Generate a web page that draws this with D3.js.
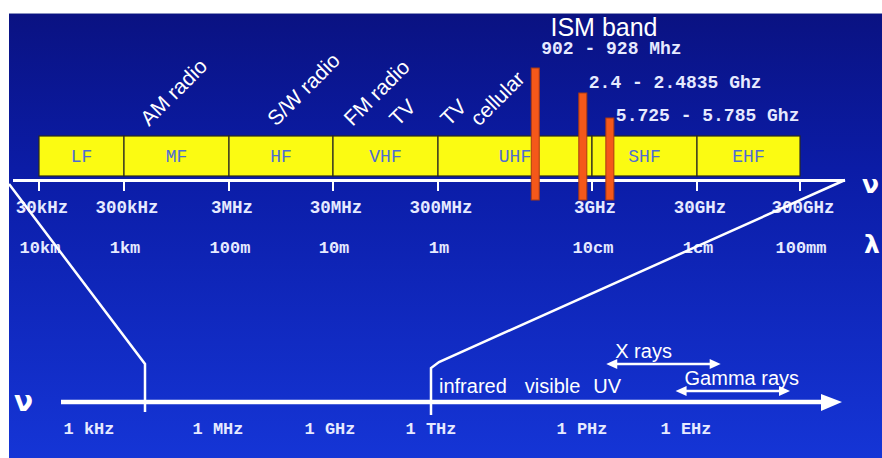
<!DOCTYPE html>
<html>
<head>
<meta charset="utf-8">
<script src="https://cdn.jsdelivr.net/npm/d3@7"></script>
<style>
  html, body { margin: 0; padding: 0; background: #ffffff; }
  svg { display: block; }
</style>
</head>
<body>
<script>
// ---------------- DATA ----------------
const bandNames = ["LF", "MF", "HF", "VHF", "UHF", "SHF", "EHF"];
const bandEdges = [3e4, 3e5, 3e6, 3e7, 3e8, 3e9, 3e10, 3e11];
const freqTickLabels = ["30kHz", "300kHz", "3MHz", "30MHz", "300MHz", "3GHz", "30GHz", "300GHz"];
const wavelengthLabels = ["10km", "1km", "100m", "10m", "1m", "10cm", "1cm", "100mm"];

const serviceNames = ["AM radio", "S/W radio", "FM radio", "TV", "TV", "cellular"];
const serviceFreqs = [5.2e5, 8.5e6, 4.6e7, 1.25e8, 3.4e8, 4.8e8];   // label anchor frequencies

const ismTitle = "ISM band";
const ismLabels = ["902 - 928 Mhz", "2.4 - 2.4835 Ghz", "5.725 - 5.785 Ghz"];
const ismLow = [902e6, 2.4e9, 5.725e9];
const ismHigh = [928e6, 2.4835e9, 5.785e9];

const spectrumTickLabels = ["1 kHz", "1 MHz", "1 GHz", "1 THz", "1 PHz", "1 EHz"];
const spectrumTickFreqs = [1e3, 1e6, 1e9, 1e12, 1e15, 1e18];
const zoomSpan = [3e4, 1e12];

const regionNames = ["infrared", "visible", "UV"];
const regionFreqs = [6.8e12, 2.6e14, 5.3e15];

const rayNames = ["X rays", "Gamma rays"];
const rayLow = [5e15, 5e17];
const rayHigh = [1e19, 1e21];

// ---------------- LAYOUT ----------------
const W = 882, H = 458;
const svg = d3.select("body").append("svg").attr("width", W).attr("height", H);

const defs = svg.append("defs");
const grad = defs.append("linearGradient").attr("id", "bg").attr("x1", 0).attr("y1", 0).attr("x2", 0).attr("y2", 1);
grad.append("stop").attr("offset", "0%").attr("stop-color", "#0a1282");
grad.append("stop").attr("offset", "35%").attr("stop-color", "#0b1ca6");
grad.append("stop").attr("offset", "100%").attr("stop-color", "#1535d6");

svg.append("rect").attr("width", W).attr("height", H).attr("fill", "#ffffff");
svg.append("rect").attr("x", 9).attr("y", 13).attr("width", W - 9).attr("height", H - 13).attr("fill", "url(#bg)");
svg.append("line").attr("x1", 9).attr("x2", W).attr("y1", 13.5).attr("y2", 13.5).attr("stroke", "#8890c0").attr("stroke-width", 1);

// top (radio) frequency scale: piecewise log scale as drawn in the diagram
const xTop = d3.scaleLog()
  .domain([3e4, 3e5, 3e6, 3e7, 3e8, 1e9, 3e9, 1e10, 3e10, 3e11])
  .range([39, 124, 229, 333, 438, 543, 592, 625, 697, 800]);

// bottom (full spectrum) scale
const xBot = d3.scaleLog()
  .domain([1e3, 3e4, 1e6, 1e9, 1e12, 1e15, 1e18])
  .range([89, 145, 218, 330, 431, 582, 686]);

const sans = "'Liberation Sans', Arial, sans-serif";
const mono = "'Liberation Mono', 'Courier New', monospace";
const lightText = "#e6eaff";

// ---------- band bar ----------
const bandTop = 136, bandBot = 176;
const bands = bandNames.map((n, i) => ({ name: n, lo: bandEdges[i], hi: bandEdges[i + 1] }));
svg.append("g").selectAll("rect").data(bands).join("rect")
  .attr("x", d => xTop(d.lo)).attr("y", bandTop)
  .attr("width", d => xTop(d.hi) - xTop(d.lo)).attr("height", bandBot - bandTop)
  .attr("fill", "#fbfb12").attr("stroke", "#2a2a20").attr("stroke-width", 1.2);
svg.append("g").selectAll("text").data(bands).join("text")
  .attr("x", d => (xTop(d.lo) + xTop(d.hi)) / 2).attr("y", 162)
  .attr("text-anchor", "middle").attr("font-family", mono).attr("font-size", 18)
  .attr("fill", "#4f6cd2").text(d => d.name);

// ---------- top axis ----------
svg.append("line").attr("x1", 13).attr("x2", 845).attr("y1", 180.5).attr("y2", 180.5)
  .attr("stroke", "#ffffff").attr("stroke-width", 3);
svg.append("g").selectAll("line").data(bandEdges).join("line")
  .attr("x1", d => xTop(d)).attr("x2", d => xTop(d)).attr("y1", 180).attr("y2", 191)
  .attr("stroke", "#ffffff").attr("stroke-width", 2);
svg.append("g").selectAll("text").data(bandEdges).join("text")
  .attr("x", d => xTop(d) + 3).attr("y", 213)
  .attr("text-anchor", "middle").attr("font-family", mono).attr("font-size", 17.5).attr("font-weight", "bold")
  .attr("fill", lightText).text((d, i) => freqTickLabels[i]);
svg.append("g").selectAll("text").data(bandEdges).join("text")
  .attr("x", d => xTop(d) + 1).attr("y", 253)
  .attr("text-anchor", "middle").attr("font-family", mono).attr("font-size", 17).attr("font-weight", "bold")
  .attr("fill", lightText).text((d, i) => wavelengthLabels[i]);

// nu / lambda on the right
svg.append("text").attr("x", 862).attr("y", 193).attr("font-family", "'DejaVu Sans', sans-serif")
  .attr("font-size", 25).attr("font-weight", "bold").attr("fill", "#ffffff").text("ν");
svg.append("text").attr("x", 864).attr("y", 253).attr("font-family", "'DejaVu Sans', sans-serif")
  .attr("font-size", 25).attr("font-weight", "bold").attr("fill", "#ffffff").text("λ");

// ---------- service labels ----------
svg.append("g").selectAll("text").data(serviceNames).join("text")
  .attr("transform", (d, i) => `translate(${xTop(serviceFreqs[i])},127) rotate(-45)`)
  .attr("font-family", sans).attr("font-size", 21).attr("fill", "#ffffff").text(d => d);

// ---------- ISM band ----------
svg.append("text").attr("x", 604).attr("y", 36).attr("text-anchor", "middle")
  .attr("font-family", sans).attr("font-size", 25).attr("fill", "#ffffff").text(ismTitle);
const ismRowY = d3.scaleLinear().domain([0, 2]).range([54, 121]);
const ismBarTop = d3.scaleLinear().domain([0, 2]).range([68, 118]);
const ism = ismLabels.map((l, i) => ({ label: l, f: Math.sqrt(ismLow[i] * ismHigh[i]), i }));
svg.append("g").selectAll("rect").data(ism).join("rect")
  .attr("x", d => xTop(d.f) - 4).attr("y", d => ismBarTop(d.i))
  .attr("width", 8).attr("height", d => 200 - ismBarTop(d.i))
  .attr("fill", "#f4581a").attr("stroke", "#a83a12").attr("stroke-width", 1);
svg.append("g").selectAll("text").data(ism).join("text")
  .attr("x", d => xTop(d.f) + 6).attr("y", d => ismRowY(d.i))
  .attr("font-family", mono).attr("font-size", 18).attr("font-weight", "bold")
  .attr("fill", lightText).text(d => d.label);

// ---------- connectors ----------
const conn = d3.line();
svg.append("path").attr("d", conn([[9, 184], [xBot(zoomSpan[0]), 364], [xBot(zoomSpan[0]), 412]]))
  .attr("fill", "none").attr("stroke", "#ffffff").attr("stroke-width", 2.5);
svg.append("path").attr("d", conn([[845, 180], [xBot(zoomSpan[1]) + 8, 362], [xBot(zoomSpan[1]), 368], [xBot(zoomSpan[1]), 415]]))
  .attr("fill", "none").attr("stroke", "#ffffff").attr("stroke-width", 2.5);

// ---------- bottom axis ----------
const botY = 402;
svg.append("line").attr("x1", 61).attr("x2", 824).attr("y1", botY).attr("y2", botY)
  .attr("stroke", "#ffffff").attr("stroke-width", 4.5);
svg.append("path").attr("d", "M821,394 L842,402 L821,411 Z").attr("fill", "#ffffff");
svg.append("text").attr("x", 14).attr("y", 411).attr("font-family", "'DejaVu Sans', sans-serif")
  .attr("font-size", 28).attr("font-weight", "bold").attr("fill", "#ffffff").text("ν");
svg.append("g").selectAll("text").data(spectrumTickFreqs).join("text")
  .attr("x", d => xBot(d)).attr("y", 434)
  .attr("text-anchor", "middle").attr("font-family", mono).attr("font-size", 17).attr("font-weight", "bold")
  .attr("fill", lightText).text((d, i) => spectrumTickLabels[i]);

svg.append("g").selectAll("text").data(regionNames).join("text")
  .attr("x", (d, i) => xBot(regionFreqs[i])).attr("y", 393).attr("text-anchor", "middle")
  .attr("font-family", sans).attr("font-size", 20).attr("fill", "#ffffff").text(d => d);

// ---------- X / Gamma ray ranges ----------
const rays = rayNames.map((n, i) => ({ name: n, lo: rayLow[i], hi: rayHigh[i], y: i === 0 ? 364 : 391 }));
const rg = svg.append("g").selectAll("g").data(rays).join("g");
rg.append("line").attr("x1", d => xBot(d.lo) + 6).attr("x2", d => xBot(d.hi) - 6)
  .attr("y1", d => d.y).attr("y2", d => d.y).attr("stroke", "#ffffff").attr("stroke-width", 2.5);
rg.append("path").attr("d", d => { const x = xBot(d.lo); return `M${x},${d.y} L${x + 11},${d.y - 5} L${x + 11},${d.y + 5} Z`; })
  .attr("fill", "#ffffff");
rg.append("path").attr("d", d => { const x = xBot(d.hi); return `M${x},${d.y} L${x - 11},${d.y - 5} L${x - 11},${d.y + 5} Z`; })
  .attr("fill", "#ffffff");
rg.append("text").attr("x", d => xBot(d.lo) + 9).attr("y", d => d.y - 6)
  .attr("font-family", sans).attr("font-size", 20).attr("fill", "#ffffff").text(d => d.name);
</script>
</body>
</html>
